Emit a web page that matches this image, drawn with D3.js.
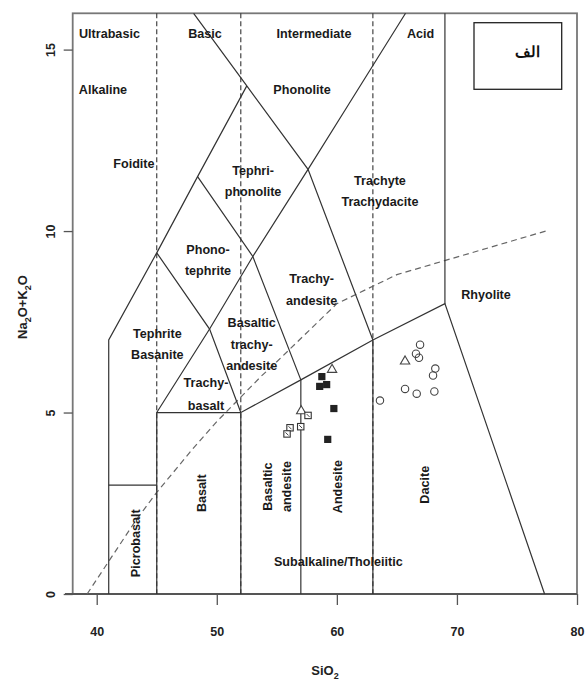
<!DOCTYPE html>
<html><head><meta charset="utf-8">
<script src="https://cdn.jsdelivr.net/npm/d3@7"></script>
<style>
html,body{margin:0;padding:0;background:#fff;}
svg text{font-family:"Liberation Sans",Arial,sans-serif;}
</style></head>
<body>
<svg id="c" width="587" height="686"></svg>
<script>
// ---- data ----
const xTicks = [40, 50, 60, 70, 80];
const yTicks = [0, 5, 10, 15];
const xTitle = "SiO";
const yTitle = "Na";
const legendLabel = "الف";

// symbol series: SiO2 and Na2O+K2O
const circleSiO2 = [66.93, 66.59, 66.84, 68.20, 68.01, 65.68, 66.65, 68.12, 63.59];
const circleAlk  = [6.87, 6.62, 6.51, 6.21, 6.02, 5.65, 5.52, 5.58, 5.33];
const triSiO2 = [65.68, 59.60, 57.03];
const triAlk  = [6.41, 6.18, 5.04];
const fsqSiO2 = [58.75, 58.57, 59.15, 59.75, 59.24];
const fsqAlk  = [5.99, 5.72, 5.77, 5.11, 4.26];
const osqSiO2 = [57.60, 56.99, 56.10, 55.85];
const osqAlk  = [4.92, 4.61, 4.58, 4.41];

// TAS field boundaries (solid)
const solidLines = [
  [[41,0],[41,7],[45,9.4],[48.4,11.5],[52.5,14]],
  [[41,3],[45,3]],
  [[45,0],[45,5],[52,5]],
  [[52,0],[52,5],[57,5.9],[63,7],[69,8],[77.3,0]],
  [[57,0],[57,5.9]],
  [[63,0],[63,7]],
  [[69,8],[69,16]],
  [[45,5],[49.4,7.3],[53,9.3],[57.6,11.7],[61,13.5],[65.72,16]],
  [[52,5],[49.4,7.3],[45,9.4]],
  [[57,5.9],[53,9.3],[48.4,11.5]],
  [[63,7],[57.6,11.7],[52.5,14],[48.07,16]]
];
// Ultrabasic/Basic/Intermediate/Acid dividers (dashed)
const dashedVerticals = [45, 52, 63];
// Irvine & Baragar alkaline/subalkaline divide
const ibX = [39.2, 40, 43.2, 45, 48, 50, 53.7, 55, 60, 65, 77.4];
const ibY = [0, 0.4, 2, 2.8, 4, 4.75, 6, 6.4, 8, 8.8, 10];

// field labels
const fieldLabels = [
  ["Ultrabasic", 41.06, 15.42, 0],
  ["Basic", 49.02, 15.42, 0],
  ["Intermediate", 58.10, 15.42, 0],
  ["Acid", 66.97, 15.42, 0],
  ["Alkaline", 40.52, 13.88, 0],
  ["Phonolite", 57.10, 13.88, 0],
  ["Foidite", 43.10, 11.86, 0],
  ["Tephri-", 53.02, 11.65, 0],
  ["phonolite", 53.02, 11.07, 0],
  ["Phono-", 49.27, 9.49, 0],
  ["tephrite", 49.27, 8.89, 0],
  ["Trachyte", 63.59, 11.39, 0],
  ["Trachydacite", 63.59, 10.81, 0],
  ["Trachy-", 57.90, 8.68, 0],
  ["andesite", 57.90, 8.08, 0],
  ["Rhyolite", 72.42, 8.25, 0],
  ["Tephrite", 45.05, 7.16, 0],
  ["Basanite", 45.05, 6.59, 0],
  ["Basaltic", 52.91, 7.47, 0],
  ["trachy-", 52.91, 6.85, 0],
  ["andesite", 52.91, 6.27, 0],
  ["Trachy-", 49.10, 5.81, 0],
  ["basalt", 49.10, 5.19, 0],
  ["Picrobasalt", 43.25, 1.40, 1],
  ["Basalt", 48.80, 2.78, 1],
  ["Basaltic", 54.29, 2.96, 1],
  ["andesite", 55.82, 2.96, 1],
  ["Andesite", 60.12, 2.96, 1],
  ["Dacite", 67.34, 3.01, 1],
  ["Subalkaline/Tholeiitic", 60.12, 0.89, 0]
];

// ---- drawing ----
const svg = d3.select("#c");
const x = d3.scaleLinear().domain([38, 80]).range([72.7, 577]);
const y = d3.scaleLinear().domain([0, 16]).range([594, 13.3]);
const line = d3.line().x(d => x(d[0])).y(d => y(d[1]));
const lineCol = "#333";

// plot frame
svg.append("rect").attr("x", x(38)).attr("y", y(16))
  .attr("width", x(80) - x(38)).attr("height", y(0) - y(16))
  .attr("fill", "none").attr("stroke", "#777").attr("stroke-width", 1.8);
svg.append("line").attr("x1", 65).attr("x2", x(80)).attr("y1", y(0)).attr("y2", y(0))
  .attr("stroke", "#555").attr("stroke-width", 1.8);

// dashed vertical dividers
svg.selectAll("line.dv").data(dashedVerticals).enter().append("line")
  .attr("class", "dv")
  .attr("x1", d => x(d)).attr("x2", d => x(d))
  .attr("y1", y(16)).attr("y2", y(0))
  .attr("stroke", "#333").attr("stroke-width", 1.1).attr("stroke-dasharray", "5,3");

// Irvine-Baragar
svg.append("path").datum(ibX.map((v, i) => [v, ibY[i]]))
  .attr("d", line).attr("fill", "none").attr("stroke", "#666")
  .attr("stroke-width", 1.2).attr("stroke-dasharray", "6,4");

// solid field boundaries
svg.selectAll("path.fb").data(solidLines).enter().append("path")
  .attr("class", "fb").attr("d", line).attr("fill", "none")
  .attr("stroke", lineCol).attr("stroke-width", 1.2);

// axes
const xAxis = d3.axisBottom(x).tickValues(xTicks).tickSize(11).tickPadding(22).tickFormat(d3.format("d"));
const gx = svg.append("g").attr("transform", `translate(0,${y(0)})`).call(xAxis);
gx.select(".domain").remove();
gx.selectAll(".tick line").attr("stroke", "#555").attr("stroke-width", 1.3);
gx.selectAll(".tick text").attr("font-size", 12.5).attr("font-weight", "bold").attr("fill", "#222")
  .attr("font-family", "Liberation Sans, Arial, sans-serif");

const yAxis = d3.axisLeft(y).tickValues(yTicks).tickSize(9).tickPadding(0).tickFormat(d3.format("d"));
const gy = svg.append("g").attr("transform", `translate(${x(38)},0)`).call(yAxis);
gy.select(".domain").remove();
gy.selectAll(".tick line").attr("stroke", "#555").attr("stroke-width", 1.3);
gy.selectAll(".tick text").attr("font-size", 12.5).attr("font-weight", "bold").attr("fill", "#222")
  .attr("font-family", "Liberation Sans, Arial, sans-serif")
  .attr("x", null).attr("dy", null)
  .attr("text-anchor", "middle").attr("dominant-baseline", "central")
  .attr("transform", "translate(-22,0) rotate(-90)");

// axis titles
const xt = svg.append("text").attr("x", 325).attr("y", 675).attr("text-anchor", "middle")
  .attr("font-size", 13).attr("font-weight", "bold").attr("fill", "#222");
xt.append("tspan").text(xTitle);
xt.append("tspan").text("2").attr("font-size", 9).attr("dy", 4);

const yt = svg.append("text").attr("transform", "translate(27,307) rotate(-90)")
  .attr("text-anchor", "middle").attr("font-size", 13).attr("font-weight", "bold").attr("fill", "#222");
yt.append("tspan").text(yTitle);
yt.append("tspan").text("2").attr("font-size", 9).attr("dy", 4);
yt.append("tspan").text("O+K").attr("dy", -4);
yt.append("tspan").text("2").attr("font-size", 9).attr("dy", 4);
yt.append("tspan").text("O").attr("dy", -4);

// field labels
svg.selectAll("text.fl").data(fieldLabels).enter().append("text")
  .attr("class", "fl")
  .attr("transform", d => `translate(${x(d[1])},${y(d[2])})` + (d[3] ? " rotate(-90)" : ""))
  .attr("text-anchor", "middle").attr("dominant-baseline", "central")
  .attr("font-size", 12.6).attr("font-weight", "bold").attr("fill", "#1a1a1a")
  .text(d => d[0]);

// legend box
svg.append("rect").attr("x", 474).attr("y", 22.7).attr("width", 87.7).attr("height", 66.6)
  .attr("fill", "#fff").attr("stroke", "#222").attr("stroke-width", 1.3);
svg.append("text").attr("x", 527).attr("y", 51).attr("text-anchor", "middle")
  .attr("dominant-baseline", "central").attr("font-size", 15).attr("font-weight", "bold")
  .attr("font-family", "DejaVu Sans, Noto Sans, sans-serif").attr("fill", "#111")
  .text(legendLabel);

// symbols
const pts = (xs, ys) => xs.map((v, i) => [v, ys[i]]);
svg.selectAll("circle.o").data(pts(circleSiO2, circleAlk)).enter().append("circle")
  .attr("cx", d => x(d[0])).attr("cy", d => y(d[1])).attr("r", 3.7)
  .attr("fill", "none").attr("stroke", "#444").attr("stroke-width", 1.1);
const tri = d3.symbol().type(d3.symbolTriangle).size(38);
svg.selectAll("path.t").data(pts(triSiO2, triAlk)).enter().append("path")
  .attr("d", tri).attr("transform", d => `translate(${x(d[0])},${y(d[1])})`)
  .attr("fill", "#fff").attr("stroke", "#444").attr("stroke-width", 1.1);
svg.selectAll("rect.fs").data(pts(fsqSiO2, fsqAlk)).enter().append("rect")
  .attr("x", d => x(d[0]) - 3.6).attr("y", d => y(d[1]) - 3.6)
  .attr("width", 7.2).attr("height", 7.2).attr("fill", "#222");
svg.selectAll("rect.os").data(pts(osqSiO2, osqAlk)).enter().append("rect")
  .attr("x", d => x(d[0]) - 3.2).attr("y", d => y(d[1]) - 3.2)
  .attr("width", 6.4).attr("height", 6.4).attr("fill", "#fff")
  .attr("stroke", "#333").attr("stroke-width", 1.1);
svg.selectAll("path.os2").data(pts(osqSiO2, osqAlk)).enter().append("path")
  .attr("d", d => `M${x(d[0]) - 1.5},${y(d[1]) - 1.5}L${x(d[0]) + 1.5},${y(d[1]) + 1.5}`)
  .attr("stroke", "#444").attr("stroke-width", 1);
</script>
</body></html>
